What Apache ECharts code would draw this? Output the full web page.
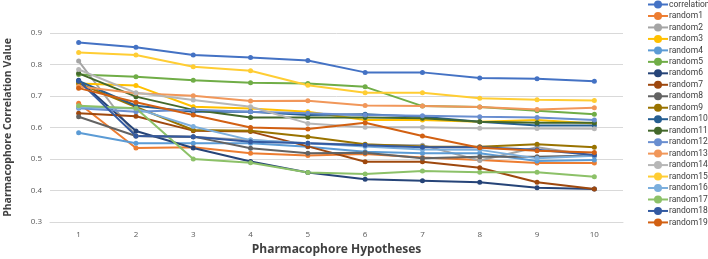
<!DOCTYPE html>
<html>
<head>
<meta charset="utf-8">
<title>Pharmacophore Correlation</title>
<script src="https://cdn.jsdelivr.net/npm/echarts@6/dist/echarts.min.js"></script>
</head>
<body style="margin:0;background:#fff;">
<div id="main" style="width:708px;height:259px;"></div>
<script>
    // hypotheses 1..10
    var hypotheses = ['1', '2', '3', '4', '5', '6', '7', '8', '9', '10'];
    var seriesNames = ['correlation', 'random1', 'random2', 'random3', 'random4', 'random5', 'random6',
        'random7', 'random8', 'random9', 'random10', 'random11', 'random12', 'random13', 'random14',
        'random15', 'random16', 'random17', 'random18', 'random19'];

    var correlation = [0.870, 0.855, 0.830, 0.822, 0.813, 0.775, 0.775, 0.757, 0.755, 0.747];
    var random1  = [0.677, 0.535, 0.537, 0.518, 0.511, 0.516, 0.505, 0.497, 0.487, 0.487];
    var random2  = [0.811, 0.573, 0.570, 0.560, 0.550, 0.545, 0.544, 0.495, 0.537, 0.510];
    var random3  = [0.740, 0.733, 0.666, 0.660, 0.650, 0.624, 0.624, 0.618, 0.624, 0.613];
    var random4  = [0.583, 0.550, 0.550, 0.550, 0.539, 0.523, 0.518, 0.518, 0.494, 0.497];
    var random5  = [0.768, 0.761, 0.750, 0.742, 0.740, 0.729, 0.668, 0.665, 0.653, 0.642];
    var random6  = [0.750, 0.589, 0.535, 0.492, 0.457, 0.436, 0.431, 0.426, 0.409, 0.405];
    var random7  = [0.645, 0.636, 0.590, 0.587, 0.540, 0.491, 0.491, 0.472, 0.426, 0.405];
    var random8  = [0.634, 0.573, 0.571, 0.534, 0.518, 0.520, 0.502, 0.507, 0.507, 0.511];
    var random9  = [0.740, 0.665, 0.592, 0.590, 0.571, 0.547, 0.540, 0.539, 0.547, 0.537];
    var random10 = [0.748, 0.669, 0.650, 0.650, 0.640, 0.642, 0.634, 0.618, 0.606, 0.606];
    var random11 = [0.772, 0.698, 0.656, 0.632, 0.632, 0.632, 0.629, 0.618, 0.615, 0.615];
    var random12 = [0.661, 0.650, 0.656, 0.650, 0.645, 0.640, 0.637, 0.634, 0.632, 0.624];
    var random13 = [0.730, 0.709, 0.701, 0.684, 0.685, 0.670, 0.668, 0.665, 0.657, 0.663];
    var random14 = [0.784, 0.710, 0.687, 0.666, 0.613, 0.601, 0.601, 0.598, 0.597, 0.596];
    var random15 = [0.838, 0.830, 0.793, 0.780, 0.734, 0.710, 0.710, 0.693, 0.688, 0.686];
    var random16 = [0.664, 0.660, 0.603, 0.560, 0.550, 0.540, 0.530, 0.529, 0.502, 0.510];
    var random17 = [0.669, 0.661, 0.500, 0.488, 0.457, 0.452, 0.462, 0.458, 0.458, 0.444];
    var random18 = [0.748, 0.573, 0.571, 0.555, 0.550, 0.544, 0.537, 0.537, 0.529, 0.513];
    var random19 = [0.725, 0.680, 0.640, 0.600, 0.595, 0.615, 0.573, 0.536, 0.526, 0.521];

    var allValues = [correlation, random1, random2, random3, random4, random5, random6, random7,
        random8, random9, random10, random11, random12, random13, random14, random15, random16,
        random17, random18, random19];

    // office palette
    var colors = ['#4472C4', '#ED7D31', '#A5A5A5', '#FFC000', '#5B9BD5', '#70AD47', '#264478',
        '#9E480E', '#636363', '#997300', '#255E91', '#43682B', '#698ED0', '#F1975A', '#B7B7B7',
        '#FFCD33', '#7CAFDD', '#8CC168', '#335AA1', '#D26012'];

    var font = '"Open Sans", sans-serif';

    var series = seriesNames.map(function (name, i) {
        return {
            name: name,
            type: 'line',
            data: allValues[i],
            symbol: 'circle',
            symbolSize: 5,
            lineStyle: {width: 2},
            itemStyle: {color: colors[i]},
            emphasis: {disabled: true}
        };
    });

    var myChart = echarts.init(document.getElementById('main'));
    myChart.setOption({
        animation: false,
        color: colors,
        grid: {left: 50, right: 85, top: 33, bottom: 37, outerBoundsMode: 'none'},
        legend: {
            orient: 'vertical',
            left: 647,
            top: 0,
            padding: 0,
            itemWidth: 20,
            itemHeight: 10,
            itemGap: 2.47,
            data: seriesNames,
            textStyle: {fontFamily: 'Roboto, sans-serif', fontSize: 8.5, color: '#404040', padding: [0, 0, 0, -4]}
        },
        xAxis: {
            type: 'category',
            data: hypotheses,
            name: 'Pharmacophore Hypotheses',
            nameLocation: 'middle',
            nameGap: 22,
            nameTextStyle: {fontFamily: font, fontSize: 12, fontWeight: 'bold', color: '#404040'},
            axisLine: {lineStyle: {color: '#D9D9D9'}},
            axisTick: {show: false},
            axisLabel: {fontFamily: font, fontSize: 8, color: '#595959', margin: 9}
        },
        yAxis: {
            type: 'value',
            min: 0.3,
            max: 0.9,
            interval: 0.1,
            name: 'Pharmacophore Correlation Value',
            nameLocation: 'middle',
            nameGap: 36,
            nameTextStyle: {fontFamily: font, fontSize: 10.5, fontWeight: 'bold', color: '#404040'},
            axisLine: {show: false},
            axisTick: {show: false},
            axisLabel: {
                fontFamily: font, fontSize: 8, color: '#595959', margin: 8,
                formatter: function (v) { return v.toFixed(1); }
            },
            splitLine: {lineStyle: {color: '#D9D9D9'}}
        },
        series: series
    });
</script>
</body>
</html>
